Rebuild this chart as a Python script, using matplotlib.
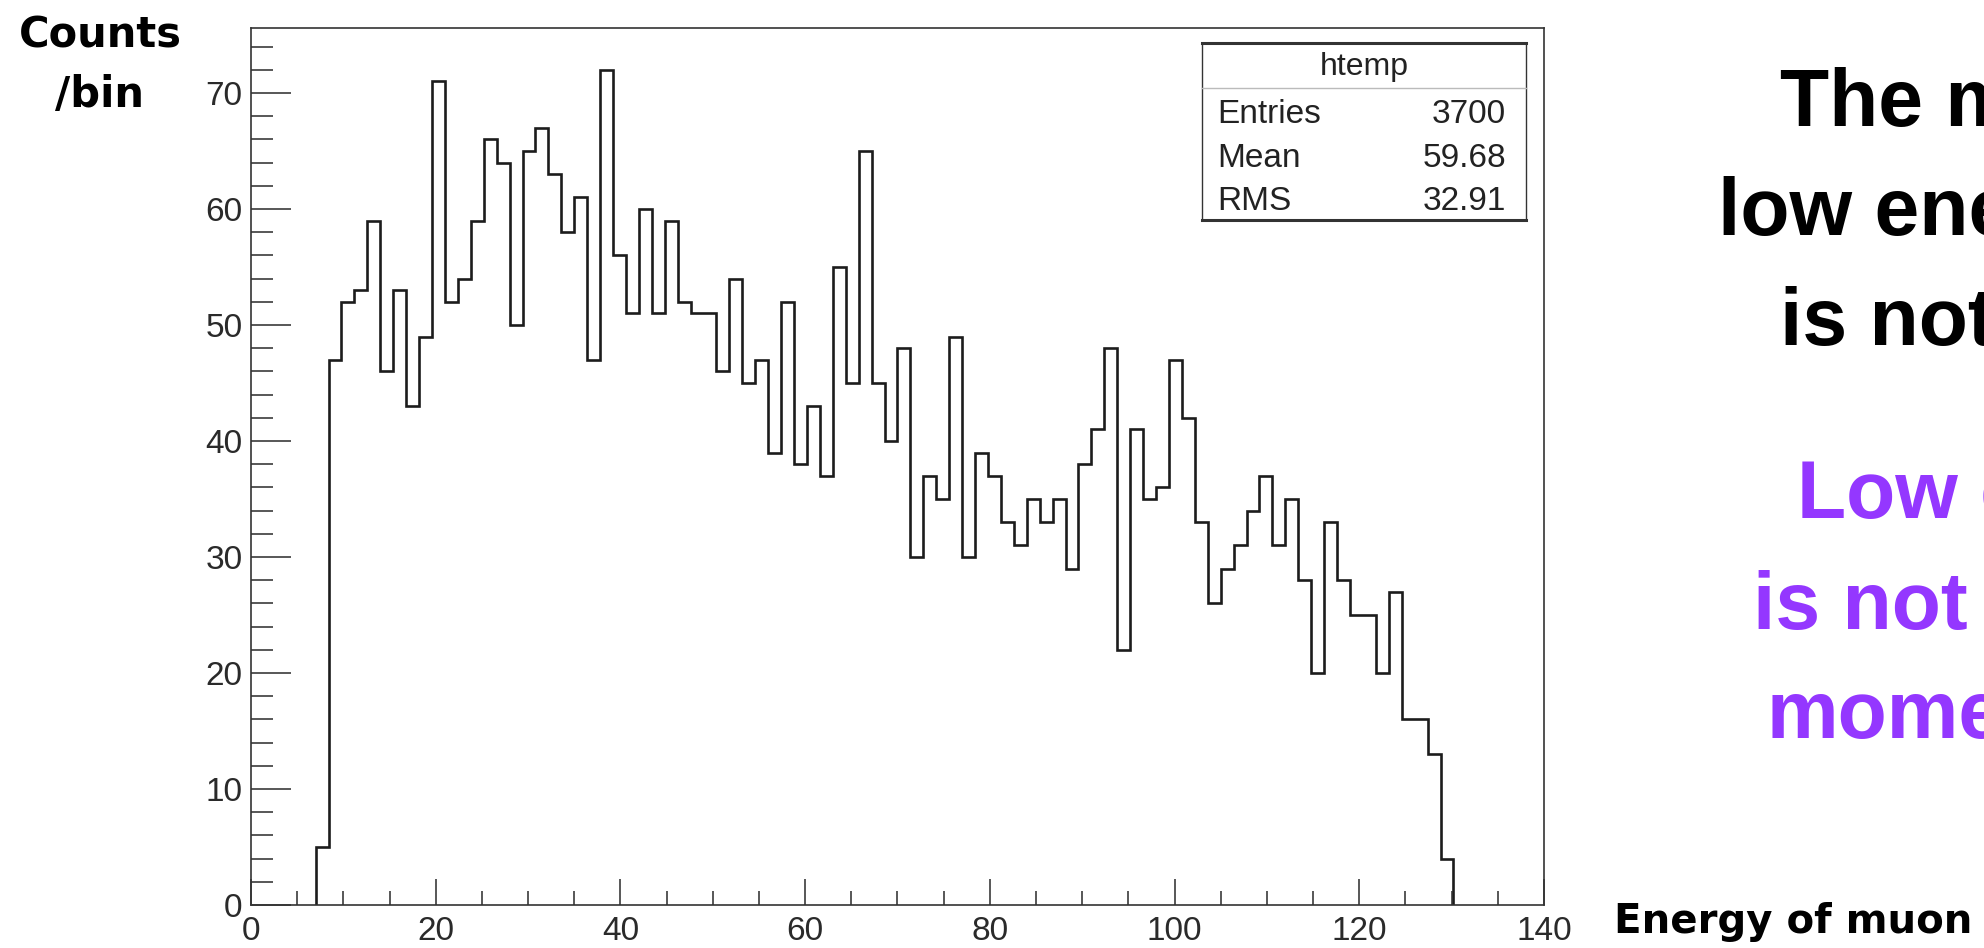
import numpy as np
import matplotlib
matplotlib.use("Agg")
import matplotlib.pyplot as plt
from matplotlib.patches import Rectangle
from matplotlib.ticker import MultipleLocator

plt.rcParams["font.family"] = ["Liberation Sans", "DejaVu Sans"]

# histogram binning: 100 bins over 0-140, filled from bin 5 to bin 92
x_lo, x_hi, n_bins = 0.0, 140.0, 100
first_bin = 5
counts = [5, 47, 52, 53, 59, 46, 53, 43, 49, 71,
          52, 54, 59, 66, 64, 50, 65, 67, 63, 58,
          61, 47, 72, 56, 51, 60, 51, 59, 52, 51,
          51, 46, 54, 45, 47, 39, 52, 38, 43, 37,
          55, 45, 65, 45, 40, 48, 30, 37, 35, 49,
          30, 39, 37, 33, 31, 35, 33, 35, 29, 38,
          41, 48, 22, 41, 35, 36, 47, 42, 33, 26,
          29, 31, 34, 37, 31, 35, 28, 20, 33, 28,
          25, 25, 20, 27, 16, 16, 13, 4]

hist_name = "htemp"
stat_names = ["Entries", "Mean", "RMS"]
stat_values = [str(sum(counts)), "59.68", "32.91"]

note_black = ["The muon with", "low energy", "is not detected"]
note_purple = ["Low energy muon", "is not used for", "momentum"]

fig = plt.figure(figsize=(19.84, 9.48), dpi=100)
ax = fig.add_axes([0.1265, 0.0454, 0.6517, 0.9251])

edges = np.linspace(x_lo, x_hi, n_bins + 1)[first_bin:first_bin + len(counts) + 1]
ax.stairs(counts, edges, baseline=0, color="#1c1c1c", lw=1.9)

ax.set_xlim(x_lo, x_hi)
ax.set_ylim(0, 1.05 * max(counts))

ax.xaxis.set_major_locator(MultipleLocator(20))
ax.xaxis.set_minor_locator(MultipleLocator(5))
ax.yaxis.set_major_locator(MultipleLocator(10))
ax.yaxis.set_minor_locator(MultipleLocator(2))
ax.tick_params(which="both", direction="in", top=False, right=False,
               colors="#2a2a2a", labelsize=24, width=1.1)
ax.tick_params(axis="y", which="major", length=29, pad=6)
ax.tick_params(axis="y", which="minor", length=16)
ax.tick_params(axis="x", which="major", length=19, pad=8)
ax.tick_params(axis="x", which="minor", length=10)
for sp in ax.spines.values():
    sp.set_linewidth(1.2)
    sp.set_color("#333333")

# stats box
bx0, bx1, by0, by1, bhead = 0.7359, 0.9861, 0.7811, 0.9829, 0.9316
ax.add_patch(Rectangle((bx0, by0), bx1 - bx0, by1 - by0, transform=ax.transAxes,
                       facecolor="white", edgecolor="#333333", lw=1.0, zorder=3))
ax.plot([bx0, bx1], [by1, by1], transform=ax.transAxes, color="#333333", lw=2.2, zorder=4)
ax.plot([bx0, bx1], [by0, by0], transform=ax.transAxes, color="#333333", lw=2.2, zorder=4)
ax.plot([bx0, bx1], [bhead, bhead], transform=ax.transAxes, color="#bbbbbb", lw=1.0, zorder=4)
ax.text((bx0 + bx1) / 2, 0.9464, hist_name, transform=ax.transAxes, ha="center",
        va="baseline", fontsize=23, color="#222222", zorder=5)
for i, (name, val) in enumerate(zip(stat_names, stat_values)):
    yb = [0.8917, 0.8415, 0.7925][i]
    ax.text(0.7475, yb, name, transform=ax.transAxes, ha="left", va="baseline",
            fontsize=24, color="#222222", zorder=5)
    ax.text(0.9706, yb, val, transform=ax.transAxes, ha="right", va="baseline",
            fontsize=24, color="#222222", zorder=5)

# axis titles written on the slide
fig.text(0.0504, 0.9494, "Counts", ha="center", va="baseline", fontsize=30,
         fontweight="bold", family="DejaVu Sans", color="black")
fig.text(0.0504, 0.8871, "/bin", ha="center", va="baseline", fontsize=30,
         fontweight="bold", family="DejaVu Sans", color="black")
fig.text(0.8135, 0.0158, "Energy of muon", ha="left", va="baseline", fontsize=29,
         fontweight="bold", family="DejaVu Sans", color="black")

# notes on the right
for txt, x, y in zip(note_black, [0.8972, 0.8659, 0.8972], [0.8671, 0.7521, 0.6361]):
    fig.text(x, y, txt, ha="left", va="baseline", fontsize=58, fontweight="bold",
             color="black")
for txt, x, y in zip(note_purple, [0.9057, 0.8836, 0.8906], [0.4536, 0.3365, 0.2215]):
    fig.text(x, y, txt, ha="left", va="baseline", fontsize=58, fontweight="bold",
             color="#9437ff")

fig.savefig("out.png", dpi=100)
